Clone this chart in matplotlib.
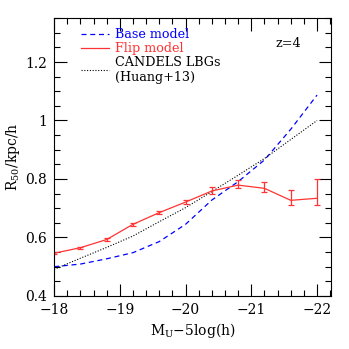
import numpy as np
import matplotlib
matplotlib.use('Agg')
import matplotlib.pyplot as plt
from matplotlib.ticker import MultipleLocator, FuncFormatter

# magnitude bins
mag = [-18.0, -18.4, -18.8, -19.2, -19.6, -20.0, -20.4, -20.8, -21.2, -21.6, -22.0]

# base model (blue dashed)
base_r50 = [0.50, 0.509, 0.527, 0.548, 0.586, 0.645, 0.728, 0.791, 0.865, 0.970, 1.087]

# flip model (red, with errors)
flip_r50 = [0.546, 0.565, 0.593, 0.645, 0.685, 0.721, 0.759, 0.779, 0.768, 0.727, 0.734]
flip_lo = [0.003, 0.003, 0.004, 0.005, 0.006, 0.008, 0.009, 0.010, 0.014, 0.016, 0.023]
flip_hi = [0.003, 0.003, 0.004, 0.005, 0.006, 0.008, 0.014, 0.017, 0.023, 0.034, 0.066]

# CANDELS LBGs (Huang+13), black dotted
obs_mag = [-18.0, -18.4, -18.8, -19.2, -19.6, -20.0, -20.4, -20.8, -21.2, -21.6, -22.0]
obs_r50 = [0.491, 0.529, 0.566, 0.605, 0.654, 0.702, 0.757, 0.813, 0.870, 0.935, 1.0]

plt.rcParams['font.family'] = ['DejaVu Serif']
plt.rcParams['mathtext.fontset'] = 'dejavuserif'
plt.rcParams['font.size'] = 10

fig = plt.figure(figsize=(3.49, 3.49), dpi=100)
ax = fig.add_axes([0.155, 0.152, 0.793, 0.796])

l1, = ax.plot(mag, base_r50, color='blue', ls=(0, (4, 3)), lw=0.9)
l2 = ax.errorbar(mag, flip_r50, yerr=[flip_lo, flip_hi], color='#ff3333', lw=0.9,
                 elinewidth=0.9, capsize=2.5, capthick=0.9)
l3, = ax.plot(obs_mag, obs_r50, color='black', ls=(0, (1, 1.5)), lw=0.8)

ax.set_xlim(-18, -22.21)
ax.set_ylim(0.4, 1.35)

ax.xaxis.set_major_locator(MultipleLocator(1))
ax.xaxis.set_minor_locator(MultipleLocator(0.2))
ax.yaxis.set_major_locator(MultipleLocator(0.2))
ax.yaxis.set_minor_locator(MultipleLocator(0.05))
ax.xaxis.set_major_formatter(FuncFormatter(lambda v, p: '\u2212%d' % round(-v)))
ax.yaxis.set_major_formatter(FuncFormatter(lambda v, p: ('%.1f' % v).rstrip('0').rstrip('.')))
ax.tick_params(which='both', direction='in', top=True, right=True, width=0.8)
ax.tick_params(which='major', length=9, pad=5)
ax.tick_params(which='minor', length=4.5)
for s in ax.spines.values():
    s.set_linewidth(0.8)

ax.set_xlabel(r'M$_{\rm U}$$-$5log(h)', labelpad=3)
ax.set_ylabel(r'R$_{50}$/kpc/h', labelpad=2)

leg = ax.legend([l1, l2[0], l3], ['Base model', 'Flip model', 'CANDELS LBGs\n(Huang+13)'],
                loc='upper left', bbox_to_anchor=(0.098, 0.963), frameon=False,
                borderpad=0, borderaxespad=0,
                handlelength=2.2, handletextpad=0.45, labelspacing=0.06,
                fontsize=9.2)
for txt, c in zip(leg.get_texts(), ['blue', '#ff3333', 'black']):
    txt.set_color(c)

ax.text(0.80, 0.91, 'z=4', transform=ax.transAxes, fontsize=9.2, va='center')

fig.savefig('out.png', dpi=100)
